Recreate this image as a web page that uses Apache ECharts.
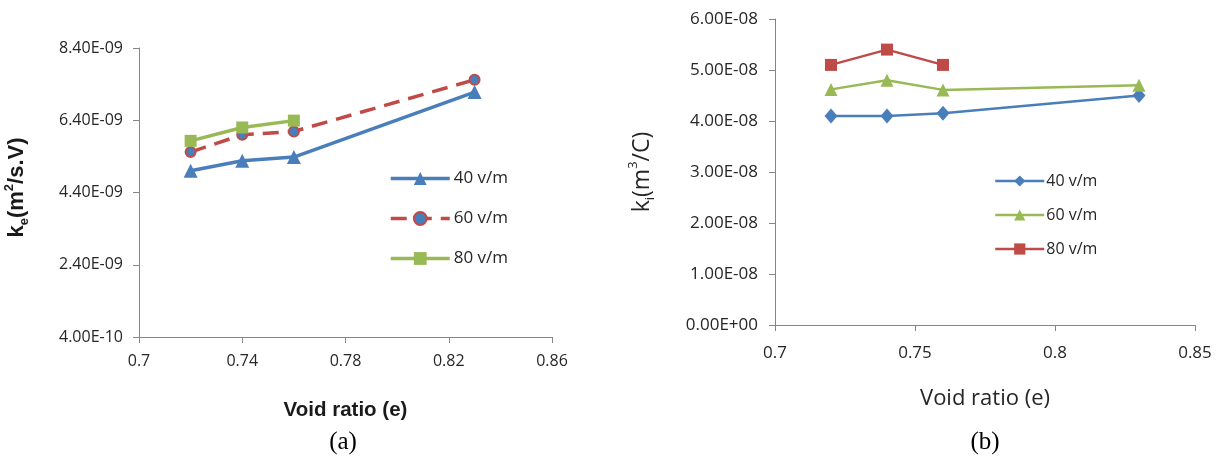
<!DOCTYPE html>
<html>
<head>
<meta charset="utf-8">
<script src="https://cdn.jsdelivr.net/npm/echarts@6/dist/echarts.min.js"></script>
<style>
html,body{margin:0;padding:0;background:#fff;}
#c{width:1219px;height:459px;}
</style>
</head>
<body>
<div id="c"></div>
<script>
// ---- data: chart (a) ----
var voidRatioA = [0.72, 0.74, 0.76, 0.83];
var ke40 = [5.00e-9, 5.28e-9, 5.38e-9, 7.18e-9];
var ke60 = [5.52e-9, 6.00e-9, 6.09e-9, 7.52e-9];
var ke80 = [5.83e-9, 6.20e-9, 6.39e-9];
var xTicksA = [0.7, 0.74, 0.78, 0.82, 0.86];
var yTicksA = [4.0e-10, 2.4e-9, 4.4e-9, 6.4e-9, 8.4e-9];

// ---- data: chart (b) ----
var voidRatioB = [0.72, 0.74, 0.76, 0.83];
var ki40 = [4.10e-8, 4.10e-8, 4.15e-8, 4.50e-8];
var ki60 = [4.62e-8, 4.80e-8, 4.61e-8, 4.70e-8];
var ki80 = [5.10e-8, 5.40e-8, 5.10e-8];
var xTicksB = [0.7, 0.75, 0.8, 0.85];

var legendNames = ['40 v/m', '60 v/m', '80 v/m'];

function pairs(xs, ys) {
  var out = [];
  for (var i = 0; i < ys.length; i++) out.push([xs[i], ys[i]]);
  return out;
}
function sci(v) {
  if (Math.abs(v) < 1e-20) return '0.00E+00';
  var s = v.toExponential(2).toUpperCase();
  return s.replace(/E([+-])(\d)$/, 'E$10$2');
}

var BLUE = '#4A7EBB', RED = '#BE4B48', GREEN = '#98B954';
var AX = '#868686';
var SANS = "'Open Sans', sans-serif";
var BOLD = "'Liberation Sans', Arial, sans-serif";

var axisLine = {lineStyle: {color: AX, width: 1}};

var chart = echarts.init(document.getElementById('c'), null, {renderer: 'canvas'});
chart.setOption({
  animation: false,
  backgroundColor: '#fff',
  grid: [
    {left: 139, top: 48, width: 413, height: 289},
    {left: 775, top: 19, width: 420, height: 306}
  ],
  xAxis: [
    {
      type: 'value', gridIndex: 0, min: xTicksA[0], max: xTicksA[xTicksA.length - 1],
      interval: xTicksA[1] - xTicksA[0],
      axisLine: axisLine,
      axisTick: {show: true, length: 6, lineStyle: {color: AX}},
      axisLabel: {color: '#262626', fontFamily: SANS, fontSize: 16, margin: 16,
                  formatter: function (v) { return String(Math.round(v * 100) / 100); }},
      splitLine: {show: false},
      name: 'Void ratio (e)', nameLocation: 'middle', nameGap: 63,
      nameTextStyle: {fontFamily: BOLD, fontWeight: 'bold', fontSize: 20.5, color: '#1a1a1a'}
    },
    {
      type: 'value', gridIndex: 1, min: xTicksB[0], max: xTicksB[xTicksB.length - 1],
      interval: 0.05,
      axisLine: axisLine,
      axisTick: {show: true, length: 6, lineStyle: {color: AX}},
      axisLabel: {color: '#262626', fontFamily: SANS, fontSize: 17, margin: 20,
                  formatter: function (v) { return String(Math.round(v * 100) / 100); }},
      splitLine: {show: false},
      name: 'Void ratio (e)', nameLocation: 'middle', nameGap: 63,
      nameTextStyle: {fontFamily: SANS, fontSize: 22, color: '#262626'}
    }
  ],
  yAxis: [
    {
      type: 'value', gridIndex: 0, min: yTicksA[0], max: yTicksA[yTicksA.length - 1],
      interval: yTicksA[1] - yTicksA[0],
      axisLine: {show: true, lineStyle: {color: AX, width: 1}},
      axisTick: {show: true, length: 6, lineStyle: {color: AX}},
      axisLabel: {formatter: sci, color: '#262626', fontFamily: SANS, fontSize: 16, margin: 16},
      splitLine: {show: false},
      name: '{b|k}{s|e}{b|(m}{p|2}{b|/s.V)}', nameLocation: 'middle', nameGap: 108, nameRotate: 90,
      nameTextStyle: {
        fontFamily: BOLD, fontWeight: 'bold', fontSize: 22, color: '#1a1a1a', padding: [0, 0, 0, 10],
        rich: {
          b: {fontFamily: BOLD, fontWeight: 'bold', fontSize: 22, lineHeight: 28, verticalAlign: 'middle', color: '#1a1a1a'},
          s: {fontFamily: BOLD, fontWeight: 'bold', fontSize: 13, lineHeight: 28, verticalAlign: 'bottom', color: '#1a1a1a'},
          p: {fontFamily: BOLD, fontWeight: 'bold', fontSize: 13, lineHeight: 28, verticalAlign: 'top', color: '#1a1a1a'}
        }
      }
    },
    {
      type: 'value', gridIndex: 1, min: 0, max: 6e-8, interval: 1e-8,
      axisLine: {show: true, lineStyle: {color: AX, width: 1}},
      axisTick: {show: true, length: 6, lineStyle: {color: AX}},
      axisLabel: {formatter: sci, color: '#262626', fontFamily: SANS, fontSize: 17, margin: 17},
      splitLine: {show: false},
      name: '{b|k}{s|i}{b|(m}{p|3}{b|/C)}', nameLocation: 'middle', nameGap: 118, nameRotate: 90,
      nameTextStyle: {
        fontFamily: SANS, fontSize: 23, color: '#262626',
        rich: {
          b: {fontFamily: SANS, fontSize: 23, lineHeight: 30, verticalAlign: 'middle', color: '#262626'},
          s: {fontFamily: SANS, fontSize: 13, lineHeight: 30, verticalAlign: 'bottom', color: '#262626'},
          p: {fontFamily: SANS, fontSize: 13, lineHeight: 30, verticalAlign: 'top', color: '#262626'}
        }
      }
    }
  ],
  legend: [
    {
      orient: 'vertical', left: 389, top: 170, padding: 0, itemWidth: 59, itemHeight: 16, itemGap: 23,
      data: [{name: 'a40'}, {name: 'a60'}, {name: 'a80'}],
      formatter: function (n) { return legendNames[['a40', 'a60', 'a80'].indexOf(n)]; },
      lineStyle: {width: 3.5},
      textStyle: {fontFamily: SANS, fontSize: 17, color: '#262626', padding: [0, 0, 0, -1]}
    },
    {
      orient: 'vertical', left: 994, top: 173, padding: 0, itemWidth: 49, itemHeight: 14, itemGap: 18,
      data: [{name: 'b40'}, {name: 'b60'}, {name: 'b80'}],
      formatter: function (n) { return legendNames[['b40', 'b60', 'b80'].indexOf(n)]; },
      lineStyle: {width: 2.5},
      textStyle: {fontFamily: SANS, fontSize: 16, color: '#262626', padding: [0, 0, 0, -3]}
    }
  ],
  graphic: [
    {type: 'text', x: 343, y: 442, style: {text: '(a)', font: "25px 'Liberation Serif', serif", fill: '#000', textAlign: 'center', textVerticalAlign: 'middle'}},
    {type: 'text', x: 985, y: 442, style: {text: '(b)', font: "25px 'Liberation Serif', serif", fill: '#000', textAlign: 'center', textVerticalAlign: 'middle'}}
  ],
  series: [
    {name: 'a40', type: 'line', xAxisIndex: 0, yAxisIndex: 0, data: pairs(voidRatioA, ke40),
     symbol: 'triangle', symbolSize: 14, showAllSymbol: true,
     lineStyle: {color: BLUE, width: 3.5}, itemStyle: {color: BLUE}},
    {name: 'a60', type: 'line', xAxisIndex: 0, yAxisIndex: 0, data: pairs(voidRatioA, ke60),
     symbol: 'circle', symbolSize: 10, showAllSymbol: true,
     lineStyle: {color: RED, width: 3.5, type: [16, 9]}, itemStyle: {color: BLUE, borderColor: RED, borderWidth: 2}},
    {name: 'a80', type: 'line', xAxisIndex: 0, yAxisIndex: 0, data: pairs(voidRatioA, ke80),
     symbol: 'rect', symbolSize: 12, showAllSymbol: true,
     lineStyle: {color: GREEN, width: 3.5}, itemStyle: {color: GREEN}},
    {name: 'b40', type: 'line', xAxisIndex: 1, yAxisIndex: 1, data: pairs(voidRatioB, ki40),
     symbol: 'diamond', symbolSize: [13, 15], showAllSymbol: true,
     lineStyle: {color: BLUE, width: 2.5}, itemStyle: {color: BLUE}},
    {name: 'b60', type: 'line', xAxisIndex: 1, yAxisIndex: 1, data: pairs(voidRatioB, ki60),
     symbol: 'triangle', symbolSize: 13, showAllSymbol: true,
     lineStyle: {color: GREEN, width: 2.5}, itemStyle: {color: GREEN}},
    {name: 'b80', type: 'line', xAxisIndex: 1, yAxisIndex: 1, data: pairs(voidRatioB, ki80),
     symbol: 'rect', symbolSize: 12, showAllSymbol: true,
     lineStyle: {color: RED, width: 2.5}, itemStyle: {color: RED}}
  ]
});
</script>
</body>
</html>
